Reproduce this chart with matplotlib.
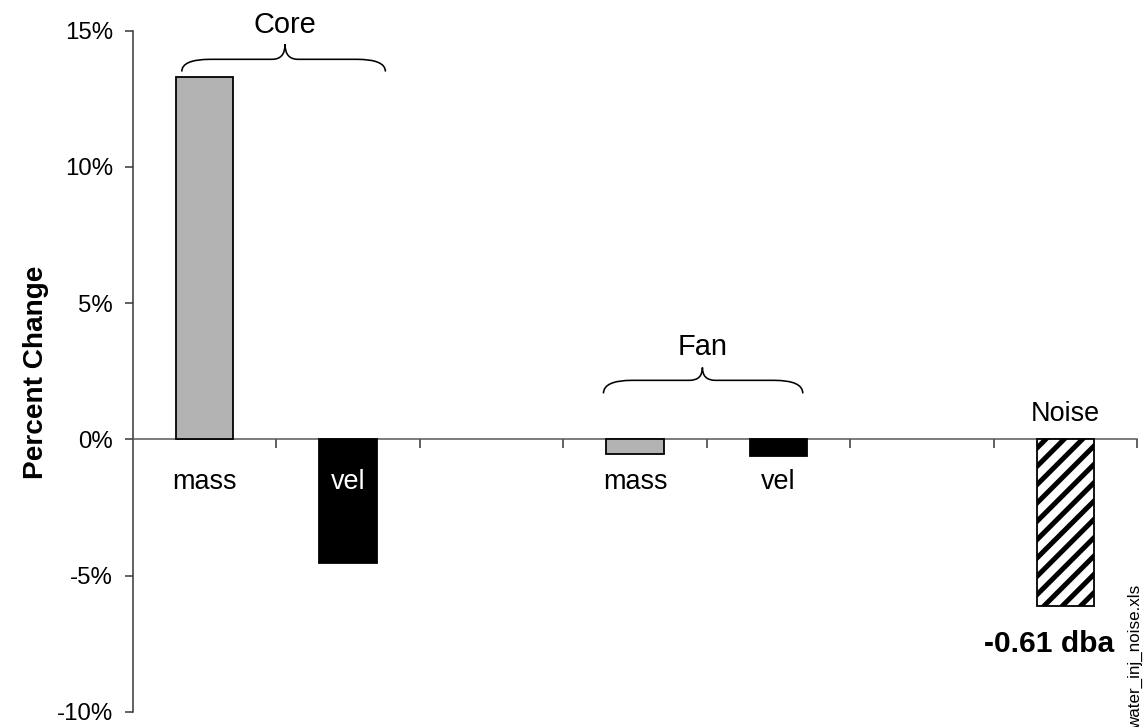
import matplotlib
matplotlib.use("Agg")
import matplotlib.pyplot as plt
from matplotlib.path import Path
from matplotlib.patches import PathPatch

DPI = 110
W, H = 1147, 727

def px(p):  # pixel size -> points
    return p * 72.0 / DPI

plt.rcParams['font.family'] = ['Liberation Sans', 'DejaVu Sans']
plt.rcParams['hatch.linewidth'] = px(5.0)

# ---- data ----
bar_labels = ["mass", "vel", "mass", "vel", "Noise"]
bar_positions = [0, 1, 3, 4, 6]
bar_values = [13.3, -4.55, -0.55, -0.62, -6.1]
bar_colors = ["#b3b3b3", "#000000", "#b3b3b3", "#000000", "#ffffff"]
bar_hatches = [None, None, None, None, "//"]
group_names = ["Core", "Fan"]
yticks = [-10, -5, 0, 5, 10, 15]
ytick_labels = ["-10%", "-5%", "0%", "5%", "10%", "15%"]
noise_note = "-0.61 dba"
file_note = "water_inj_noise.xls"

fig = plt.figure(figsize=(W / DPI, H / DPI), dpi=DPI)
ax = fig.add_axes([133 / W, 1 - 712 / H, (1137 - 133) / W, (712 - 30.7) / H])
ax.set_xlim(-0.5, 6.5)
ax.set_ylim(-10, 15)

for pos, val, col, hat in zip(bar_positions, bar_values, bar_colors, bar_hatches):
    ax.bar(pos, val, width=0.4, color=col, edgecolor="black", linewidth=px(1.8),
           hatch=hat, zorder=3)

# spines
for s in ["top", "right"]:
    ax.spines[s].set_visible(False)
ax.spines["bottom"].set_position(("data", 0))
ax.spines["bottom"].set_color("#555555")
ax.spines["left"].set_color("#333333")
ax.spines["bottom"].set_linewidth(px(1.5))
ax.spines["left"].set_linewidth(px(1.5))

ax.set_yticks(yticks)
ax.set_yticklabels(ytick_labels, fontsize=px(24))
ax.tick_params(axis="y", direction="out", length=px(8), width=px(1.5), pad=px(12),
               color="#333333")
ax.set_xticks([0.5, 1.5, 2.5, 3.5, 4.5, 5.5, 6.5])
ax.set_xticklabels([])
ax.tick_params(axis="x", direction="out", length=px(9), width=px(1.5), color="#333333")

fig.text(36 / W, 1 - 372 / H, "Percent Change", rotation=90, fontsize=px(28),
         fontweight="bold", ha="center", va="center")

# category labels
label_y = -1.55
for pos, lab, col in zip(bar_positions[:4], bar_labels[:4], ["black", "white", "black", "black"]):
    ax.text(pos, label_y, lab, ha="center", va="center", fontsize=px(27), color=col, zorder=5)

ax.text(6.0, 0.95, bar_labels[4], ha="center", va="center", fontsize=px(27))
ax.text(5.89, -7.5, noise_note, ha="center", va="center", fontsize=px(30),
        fontweight="bold")

# braces
def brace(x0, x1, xm, yb, yf, yc, rx=0.2, rm=0.09):
    verts = [(x0, yb), (x0, yf), (x0 + rx, yf),
             (xm - rm, yf), (xm, yf), (xm, yc),
             (xm, yf), (xm + rm, yf),
             (x1 - rx, yf), (x1, yf), (x1, yb)]
    codes = [Path.MOVETO, Path.CURVE3, Path.CURVE3,
             Path.LINETO, Path.CURVE3, Path.CURVE3,
             Path.CURVE3, Path.CURVE3,
             Path.LINETO, Path.CURVE3, Path.CURVE3]
    ax.add_patch(PathPatch(Path(verts, codes), fill=False, lw=px(1.6),
                           edgecolor="black", clip_on=False, zorder=4))

brace(-0.16, 1.26, 0.56, 13.5, 13.95, 14.5)
ax.text(0.56, 15.2, group_names[0], ha="center", va="center", fontsize=px(29), clip_on=False)
brace(2.78, 4.17, 3.47, 1.69, 2.17, 2.64)
ax.text(3.47, 3.4, group_names[1], ha="center", va="center", fontsize=px(29))

fig.text(1135 / W, 1 - 585 / H, file_note, rotation=90, fontsize=px(17),
         ha="center", va="top")

fig.savefig("out.png", dpi=DPI)
